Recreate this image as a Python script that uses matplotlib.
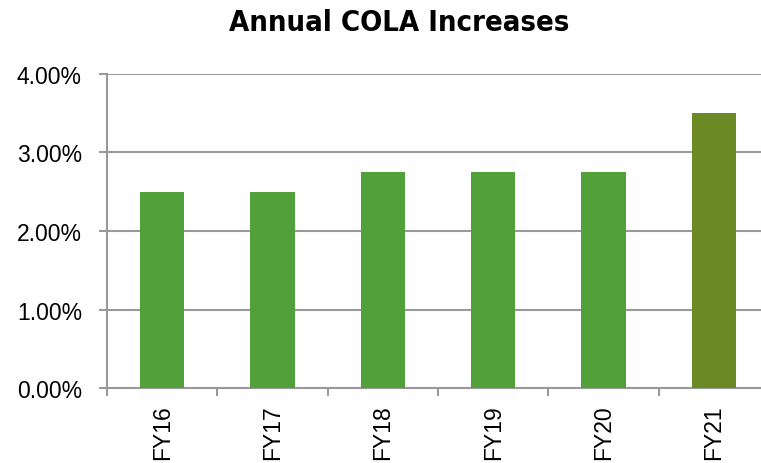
import matplotlib
import matplotlib.pyplot as plt
import numpy as np
from matplotlib.ticker import FuncFormatter, FixedLocator

matplotlib.use('Agg')

# COLA increase per fiscal year (percent)
years = ['FY16', 'FY17', 'FY18', 'FY19', 'FY20', 'FY21']
cola = [2.5, 2.5, 2.75, 2.75, 2.75, 3.5]
bar_colors = ['#52A03A'] * 5 + ['#6B8A26']

plt.rcParams['font.family'] = ['Liberation Sans', 'DejaVu Sans']

fig = plt.figure(figsize=(7.61, 4.64), dpi=100)
ax = fig.add_axes([0.1406, 0.1616, 0.8699, 0.6768])

x = np.arange(len(years))
ax.bar(x, cola, width=0.4, color=bar_colors, zorder=3)

ax.set_xlim(-0.5, len(years) - 0.5)
ax.set_ylim(0, 4)
ax.set_yticks([0, 1, 2, 3, 4])
ax.yaxis.set_major_formatter(FuncFormatter(lambda v, _: f'{v:.2f}%'))

# labels sit under bar centers, tick marks go between categories
ax.set_xticks(x)
ax.set_xticklabels(years, rotation=90)
ax.xaxis.set_minor_locator(FixedLocator(np.arange(-0.5, len(years), 1.0)))
ax.tick_params(axis='x', which='major', length=0, pad=12, labelsize=16.5)
ax.tick_params(axis='x', which='minor', length=6, width=1.5, color='#999999')
ax.tick_params(axis='y', length=6, width=1.5, color='#999999', labelsize=16.5, pad=12)

ax.grid(axis='y', color='#999999', linewidth=1.5, zorder=0)
for side in ['top', 'right']:
    ax.spines[side].set_visible(False)
for side in ['left', 'bottom']:
    ax.spines[side].set_color('#999999')
    ax.spines[side].set_linewidth(1.5)

fig.text(0.524, 0.95, 'Annual COLA Increases', ha='center', va='center',
         fontsize=21, fontweight='bold', fontstretch='condensed',
         family=['DejaVu Sans'])

fig.savefig('out.png', dpi=100)
